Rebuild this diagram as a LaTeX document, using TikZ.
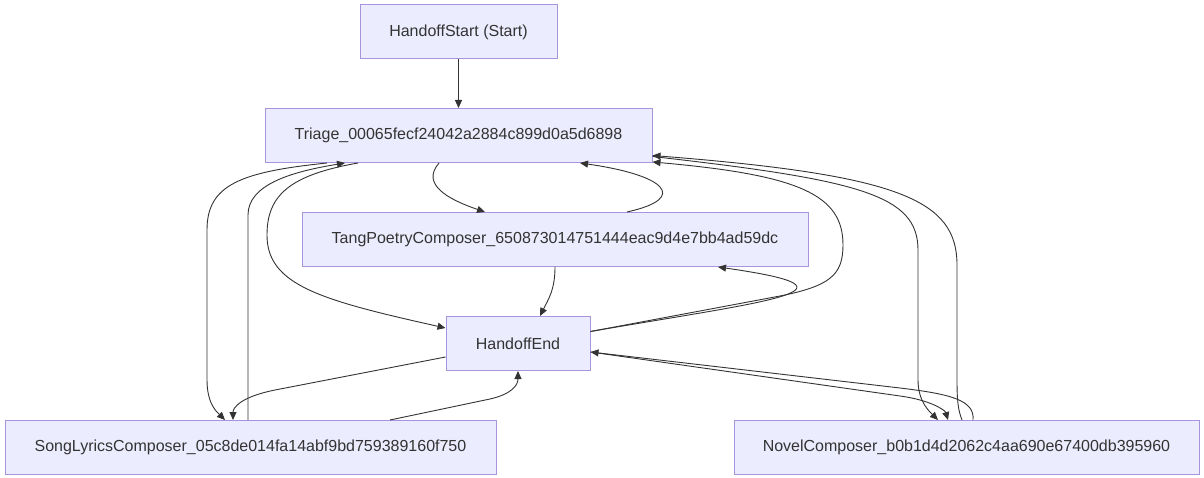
\documentclass[tikz,border=0pt]{standalone}
\usepackage{fontspec}
\setmainfont{Liberation Sans}
\usepackage{tikz}
\usetikzlibrary{
  positioning,
  arrows.meta,
  calc
}
\definecolor{statebg}{HTML}{ECECFF}
\definecolor{stateborder}{HTML}{A893DE}
\definecolor{textcolor}{HTML}{333333}
\definecolor{arrowcolor}{HTML}{333333}
\tikzset{
  statebox/.style={
    draw=stateborder, fill=statebg, line width=1pt,
    minimum height=54pt, inner sep=0pt,
    font=\fontsize{16}{19}\selectfont, text=textcolor, align=center
  },
  flowarrow/.style={
    -{Triangle[length=8pt,width=7pt]}, line width=0.9pt, draw=arrowcolor
  }
}

\begin{document}
\begin{tikzpicture}[x=1pt, y=-1pt]
    \useasboundingbox (0,0) rectangle (1204,478);

    \node[statebox, minimum width=197pt] (start) at (458.5,32) {HandoffStart (Start)};
    \node[statebox, minimum width=387pt] (triage) at (458.5,135.5) {Triage\_00065fecf24042a2884c899d0a5d6898};
    \node[statebox, minimum width=506pt] (tang) at (555,239.5) {TangPoetryComposer\_650873014751444eac9d4e7bb4ad59dc};
    \node[statebox, minimum width=144pt] (end) at (518,343.5) {HandoffEnd};
    \node[statebox, minimum width=491pt] (song) at (250.5,447.5) {SongLyricsComposer\_05c8de014fa14abf9bd759389160f750};
    \node[statebox, minimum width=465pt] (novel) at (966.5,447.5) {NovelComposer\_b0b1d4d2062c4aa690e67400db395960};

    \draw[flowarrow] (start.south) -- (triage.north);
    \draw[flowarrow] ($(triage.south)+(-19.5,0)$) .. controls (420,185) and (450,200) .. ($(tang.north)+(-70,0)$);
    \draw[flowarrow] ($(tang.north)+(72,0)$) .. controls (690,198) and (665,175) .. ($(triage.south)+(121.5,0)$);
    \draw[flowarrow] (tang.south) .. controls (555,290) and (548,300) .. ($(end.north)+(22,0)$);

    % Triage <-> HandoffEnd / SongLyrics
    \draw[flowarrow] ($(triage.south)+(-100.5,0)$) .. controls (290,175) and (267,195) .. (267,235)
      .. controls (267,285) and (320,300) .. ($(end.west)+(0,-15.5)$);
    \draw[flowarrow] ($(triage.south)+(-131.5,0)$) .. controls (240,172) and (207,185) .. (207,230) -- (207,380)
      .. controls (207,405) and (218,413) .. ($(song.north)+(-25.5,0)$);
    \draw[flowarrow] ($(song.north)+(-2.5,0)$) -- (248,215) .. controls (248,185) and (290,172) .. ($(triage.south)+(-113.5,0)$);
    \draw[flowarrow] ($(end.west)+(0,13.5)$) -- (275,390) .. controls (240,397) and (233,408) .. ($(song.north)+(-17.5,0)$);
    \draw[flowarrow] ($(song.north)+(139.5,0)$) -- (490,399) .. controls (512,394) and (518,385) .. (end.south);

    % HandoffEnd -> Triage / TangPoetry
    \draw[flowarrow] ($(end.east)+(0,-12)$) -- (780,296) .. controls (830,286) and (843,275) .. (843,245)
      .. controls (843,195) and (800,175) .. ($(triage.south east)+(0,-1)$);
    \draw[flowarrow] ($(end.east)+(0,-12)$) .. controls (760,302) and (880,290) .. ($(tang.south)+(163,0)$);

    % Triage <-> NovelComposer
    \draw[flowarrow] ($(triage.east)+(0,21)$) .. controls (860,180) and (918,195) .. (918,250) -- (918,380)
      .. controls (918,402) and (930,412) .. ($(novel.north)+(-28.5,0)$);
    \draw[flowarrow] ($(novel.north)+(-4.5,0)$) .. controls (958,410) and (957,400) .. (957,380) -- (957,265)
      .. controls (957,200) and (900,175) .. ($(triage.east)+(0,20)$);
    \draw[flowarrow] ($(end.east)+(0,8.5)$) -- (900,396) .. controls (930,400) and (945,410) .. ($(novel.north)+(-18.5,0)$);
    \draw[flowarrow] ($(novel.north)+(6.5,0)$) .. controls (975,400) and (950,394) .. (900,388) -- ($(end.east)+(0,8.5)$);

  \end{tikzpicture}
\end{document}
